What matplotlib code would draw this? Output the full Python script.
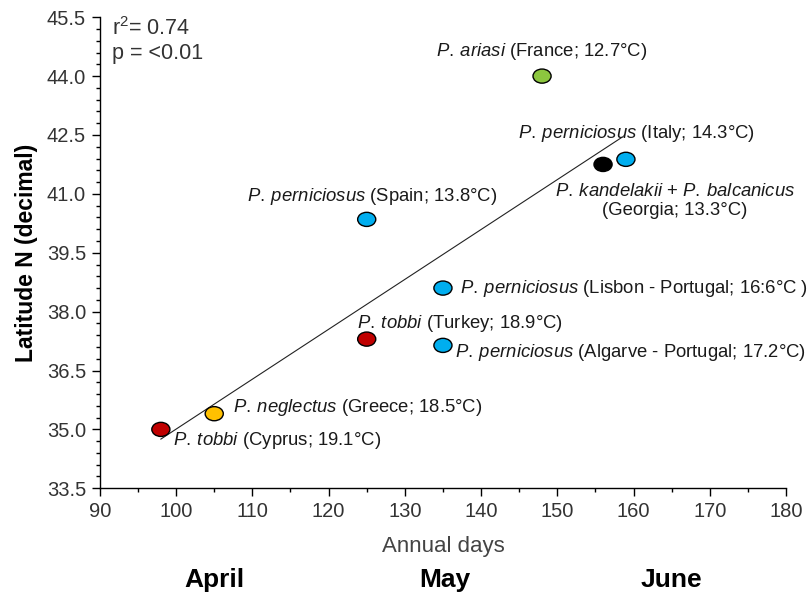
import numpy as np
import matplotlib
matplotlib.use("Agg")
import matplotlib.pyplot as plt
import matplotlib.path as mpath
import matplotlib.transforms as mtransforms
from matplotlib.ticker import FixedLocator, MultipleLocator, FormatStrFormatter

plt.rcParams["font.family"] = ["Liberation Sans", "DejaVu Sans"]
plt.rcParams["mathtext.fontset"] = "custom"
plt.rcParams["mathtext.rm"] = "Liberation Sans"
plt.rcParams["mathtext.it"] = "Liberation Sans:italic"
plt.rcParams["mathtext.bf"] = "Liberation Sans:bold"

# data
days = [98, 105, 125, 125, 135, 135, 148, 159, 156]
latitude = [35.0, 35.4, 37.3, 40.35, 38.6, 37.14, 44.0, 41.88, 41.75]
colors = ["#C00000", "#FFC000", "#C00000", "#00AEEF", "#00AEEF",
          "#00AEEF", "#8CC63F", "#00AEEF", "#000000"]
labels = [
    r"$\mathit{P.\:tobbi}$ (Cyprus; 19.1°C)",
    r"$\mathit{P.\:neglectus}$ (Greece; 18.5°C)",
    r"$\mathit{P.\:tobbi}$ (Turkey; 18.9°C)",
    r"$\mathit{P.\:perniciosus}$ (Spain; 13.8°C)",
    r"$\mathit{P.\:perniciosus}$ (Lisbon - Portugal; 16:6°C )",
    r"$\mathit{P.\:perniciosus}$ (Algarve - Portugal; 17.2°C)",
    r"$\mathit{P.\:ariasi}$ (France; 12.7°C)",
    r"$\mathit{P.\:perniciosus}$ (Italy; 14.3°C)",
    r"$\mathit{P.\:kandelakii}$ + $\mathit{P.\:balcanicus}$" + "\n(Georgia; 13.3°C)",
]
months = ["April", "May", "June"]
month_days = [105.0, 135.3, 165.0]
r2_text = "r$^2$= 0.74"
p_text = "p = <0.01"
y_ticks = np.arange(33.5, 45.51, 1.5)
y_minor = np.arange(33.5, 45.51, 0.3)

# label placement (pixel offsets from each point)
label_offsets = [(12, -11), (19, 6), (-10, 16), (5, 23), (17, 0),
                 (12, -7), (0, 25), (11, 26), (72, -37)]
label_ha = ["left", "left", "left", "center", "left",
            "left", "center", "center", "center"]

fig = plt.figure(figsize=(8.12, 5.94), dpi=100)
ax = fig.add_axes([0.123, 0.178, 0.845, 0.793])

# regression line
slope, icpt = np.polyfit(days, latitude, 1)
xfit = np.array([min(days), 158.5])
ax.plot(xfit, slope * xfit + icpt, color="#222222", lw=0.8, zorder=1)

ell = mpath.Path.unit_circle().transformed(mtransforms.Affine2D().scale(1.0, 0.78))
ax.scatter(days, latitude, s=170, c=colors, marker=ell,
           edgecolors="black", linewidths=1.0, zorder=3)

for x, y, txt, off, ha in zip(days, latitude, labels, label_offsets, label_ha):
    ax.annotate(txt, (x, y), xytext=off, textcoords="offset pixels",
                ha=ha, va="center", ma="center", fontsize=13.3,
                color="#1a1a1a", linespacing=1.15)

ax.set_xlim(90, 180)
ax.set_ylim(33.5, 45.5)
ax.xaxis.set_major_locator(MultipleLocator(10))
ax.xaxis.set_minor_locator(MultipleLocator(5))
ax.yaxis.set_major_locator(FixedLocator(y_ticks))
ax.yaxis.set_minor_locator(FixedLocator(y_minor))
ax.yaxis.set_major_formatter(FormatStrFormatter("%.1f"))

for s in ["top", "right"]:
    ax.spines[s].set_visible(False)
for s in ["left", "bottom"]:
    ax.spines[s].set_linewidth(1.0)

ax.tick_params(which="major", direction="out", length=6, width=1.0,
               labelsize=14.5, labelcolor="#333333", pad=4)
ax.tick_params(which="minor", direction="out", length=3, width=1.0)

ax.set_xlabel("Annual days", fontsize=16, color="#444444", labelpad=11)
ax.set_ylabel("Latitude N (decimal)", fontsize=16.5, fontweight="bold",
              labelpad=6)

trans = mtransforms.blended_transform_factory(ax.transData, ax.transAxes)
for m, d in zip(months, month_days):
    ax.text(d, -0.195, m, transform=trans, ha="center", va="center",
            fontsize=19, fontweight="bold", clip_on=False)

ax.text(0.018, 0.975, r2_text, transform=ax.transAxes, fontsize=15.5,
        color="#333333", va="center")
ax.text(0.018, 0.922, p_text, transform=ax.transAxes, fontsize=15.5,
        color="#333333", va="center")

fig.savefig("out.png", dpi=100)
